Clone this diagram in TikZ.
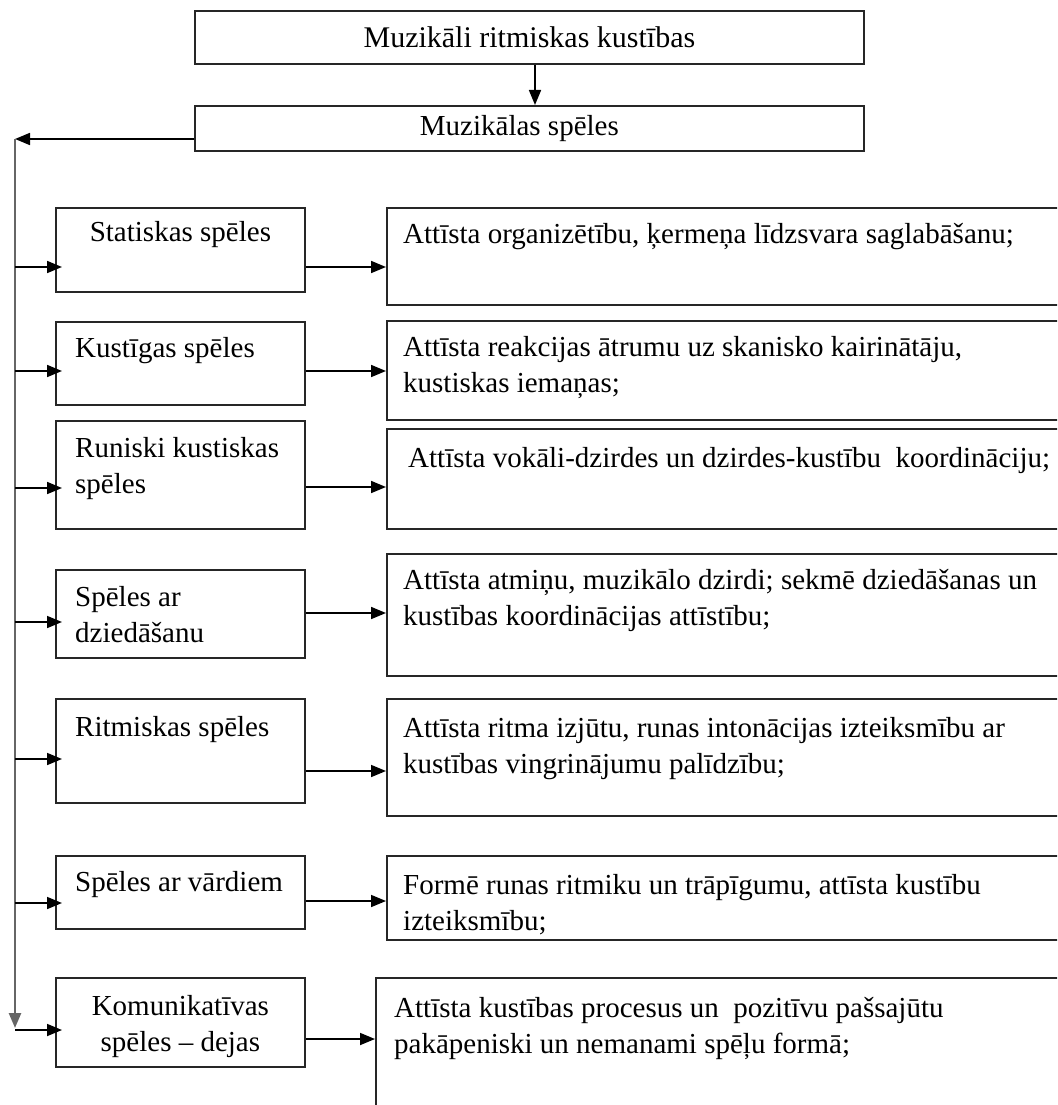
\documentclass[tikz,border=0pt]{standalone}
\usepackage{fontspec}
\setmainfont{Liberation Serif}
\usetikzlibrary{arrows.meta, positioning, calc}

\begin{document}
\begin{tikzpicture}[x=1pt, y=-1pt,
    >={Triangle[length=15pt,width=12pt]},
    box/.style={draw, line width=1.8pt, black!85, text=black, anchor=north west, inner sep=0pt},
    lbox/.style={box, minimum width=249pt},
    rbox/.style={box, minimum width=700pt},
    txt/.style={anchor=north west, inner sep=0pt, align=left, text=black, font=\fontsize{29}{36}\selectfont},
    arr/.style={->, line width=1.7pt},
    spine/.style={line width=2.6pt, black!60}
  ]
    \useasboundingbox (0,0) rectangle (1057,1105);
    \clip (0,0) rectangle (1057,1105);

    \node[box, minimum width=669pt, minimum height=53pt, font=\fontsize{30}{36}\selectfont] (top) at (194,10) {Muzikāli ritmiskas kustības};
    \node[box, minimum width=669pt, minimum height=45pt, font=\fontsize{29}{36}\selectfont] (games) at (194,105) {\hspace*{-20pt}Muzikālas spēles};

    \node[lbox, minimum height=84pt, label={[txt, anchor=north, align=center, yshift=-9pt]north:{\rule{0pt}{25pt}Statiskas spēles}}] (l1) at (55,207) {};
    \node[lbox, minimum height=83pt, label={[txt, xshift=20pt, yshift=-11pt]north west:{\rule{0pt}{25pt}Kustīgas spēles}}] (l2) at (55,321) {};
    \node[lbox, minimum height=108pt, label={[txt, xshift=20pt, yshift=-12pt]north west:{\rule{0pt}{25pt}Runiski kustiskas\\spēles}}] (l3) at (55,420) {};
    \node[lbox, minimum height=88pt, label={[txt, xshift=20pt, yshift=-12pt]north west:{\rule{0pt}{25pt}Spēles ar\\dziedāšanu}}] (l4) at (55,569) {};
    \node[lbox, minimum height=104pt, label={[txt, xshift=20pt, yshift=-13pt]north west:{\rule{0pt}{25pt}Ritmiskas spēles}}] (l5) at (55,698) {};
    \node[lbox, minimum height=73pt, label={[txt, xshift=20pt, yshift=-11pt]north west:{\rule{0pt}{25pt}Spēles ar vārdiem}}] (l6) at (55,855) {};
    \node[lbox, minimum height=89pt, label={[txt, anchor=north, align=center, yshift=-13pt]north:{\rule{0pt}{25pt}Komunikatīvas\\spēles -- dejas}}] (l7) at (55,977) {};

    \node[rbox, minimum height=97pt, label={[txt, xshift=17pt, yshift=-11pt]north west:{\rule{0pt}{25pt}Attīsta organizētību, ķermeņa līdzsvara saglabāšanu;}}] (r1) at (386,207) {};
    \node[rbox, minimum height=99pt, label={[txt, xshift=17pt, yshift=-11pt]north west:{\rule{0pt}{25pt}Attīsta reakcijas ātrumu uz skanisko kairinātāju,\\kustiskas iemaņas;}}] (r2) at (386,320) {};
    \node[rbox, minimum height=100pt, label={[txt, xshift=22pt, yshift=-14pt]north west:{\rule{0pt}{25pt}Attīsta vokāli-dzirdes un dzirdes-kustību~ koordināciju;}}] (r3) at (386,428) {};
    \node[rbox, minimum height=122pt, label={[txt, xshift=17pt, yshift=-11pt]north west:{\rule{0pt}{25pt}Attīsta atmiņu, muzikālo dzirdi; sekmē dziedāšanas un\\kustības koordinācijas attīstību;}}] (r4) at (386,553) {};
    \node[rbox, minimum height=117pt, label={[txt, xshift=17pt, yshift=-14pt]north west:{\rule{0pt}{25pt}Attīsta ritma izjūtu, runas intonācijas izteiksmību ar\\kustības vingrinājumu palīdzību;}}] (r5) at (386,698) {};
    \node[rbox, minimum height=84pt, label={[txt, xshift=17pt, yshift=-14pt]north west:{\rule{0pt}{25pt}Formē runas ritmiku un trāpīgumu, attīsta kustību\\izteiksmību;}}] (r6) at (386,855) {};
    \node[rbox, minimum height=150pt, label={[txt, xshift=19pt, yshift=-15pt]north west:{\rule{0pt}{25pt}Attīsta kustības procesus un~ pozitīvu pašsajūtu\\pakāpeniski un nemanami spēļu formā;}}] (r7) at (375,977) {};

    \coordinate (spine) at (15,139);
    \coordinate (spineend) at (15,1028);

    \draw[arr] (top.south -| 535,0) -- (games.north -| 535,0);
    \draw[arr] (games.west |- spine) -- (spine);
    \draw[arr, spine] (spine) -- (spineend);

    \foreach \n/\ya/\yb in {1/267/267, 2/371/371, 3/488/487, 4/622/613, 5/759/771, 6/903/901, 7/1030/1039} {
        \draw[arr, shorten >=-7pt] (spine |- 0,\ya) -- (l\n.west |- 0,\ya);
        \draw[arr] (l\n.east |- 0,\yb) -- (r\n.west |- 0,\yb);
    }
\end{tikzpicture}
\end{document}
